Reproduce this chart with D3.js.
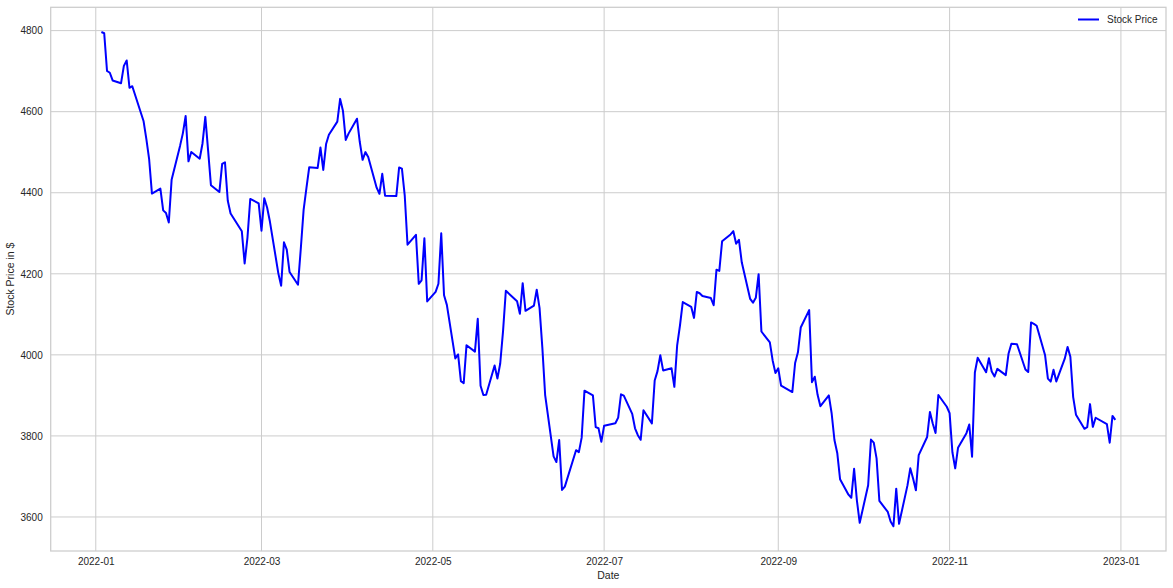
<!DOCTYPE html>
<html>
<head>
<meta charset="utf-8">
<script src="https://cdn.jsdelivr.net/npm/d3@7"></script>
<style>
  html, body { margin: 0; padding: 0; background: #fff; }
  svg { display: block; }
  text { font-family: "Liberation Sans", Arial, sans-serif; fill: #262626; }
</style>
</head>
<body>
<svg id="chart" width="1173" height="588"></svg>
<script>
// ---- data ----
// trading days of 2022, one list per month (Jan..Dec)
const tradingDays = [
  [3,4,5,6,7,10,11,12,13,14,18,19,20,21,24,25,26,27,28,31],
  [1,2,3,4,7,8,9,10,11,14,15,16,17,18,22,23,24,25,28],
  [1,2,3,4,7,8,9,10,11,14,15,16,17,18,21,22,23,24,25,28,29,30,31],
  [1,4,5,6,7,8,11,12,13,14,18,19,20,21,22,25,26,27,28,29],
  [2,3,4,5,6,9,10,11,12,13,16,17,18,19,20,23,24,25,26,27,31],
  [1,2,3,6,7,8,9,10,13,14,15,16,17,21,22,23,24,27,28,29,30],
  [1,5,6,7,8,11,12,13,14,15,18,19,20,21,22,25,26,27,28,29],
  [1,2,3,4,5,8,9,10,11,12,15,16,17,18,19,22,23,24,25,26,29,30,31],
  [1,2,6,7,8,9,12,13,14,15,16,19,20,21,22,23,26,27,28,29,30],
  [3,4,5,6,7,10,11,12,13,14,17,18,19,20,21,24,25,26,27,28,31],
  [1,2,3,4,7,8,9,10,11,14,15,16,17,18,21,22,23,25,28,29,30],
  [1,2,5,6,7,8,9,12,13,14,15,16,19,20,21,22,23,27,28,29,30]
];
const prices = [
  4796.56,4793.54,4700.58,4696.05,4677.03,4670.29,4713.07,4726.35,4659.03,4662.85,4577.11,4532.76,4482.73,4397.94,4410.13,4356.45,4349.93,4326.51,4431.85,4515.55,
  4546.54,4589.38,4477.44,4500.53,4483.87,4521.54,4587.18,4504.08,4418.64,4401.67,4471.07,4475.01,4380.26,4348.87,4304.76,4225.50,4288.70,4384.65,4373.94,
  4306.26,4386.54,4363.49,4328.87,4201.09,4170.70,4277.88,4259.52,4204.31,4173.11,4262.45,4357.86,4411.67,4463.12,4461.18,4511.61,4456.24,4520.16,4543.06,4575.52,4631.60,4602.45,4530.41,
  4545.86,4582.64,4525.12,4481.15,4500.21,4488.28,4412.53,4397.45,4446.59,4392.59,4391.69,4462.21,4459.45,4393.66,4271.78,4296.12,4175.20,4183.96,4287.50,4131.93,
  4155.38,4175.48,4300.17,4146.87,4123.34,3991.24,4001.05,3935.18,3930.08,4023.89,4008.01,4088.85,3923.68,3900.79,3901.36,3973.75,3941.48,3978.73,4057.84,4158.24,4132.15,
  4101.23,4176.82,4108.54,4121.43,4160.68,4115.77,4017.82,3900.86,3749.63,3735.48,3789.99,3666.77,3674.84,3764.79,3759.89,3795.73,3911.74,3900.11,3821.55,3818.83,3785.38,
  3825.33,3831.39,3845.08,3902.62,3899.38,3854.43,3818.80,3801.78,3790.38,3863.16,3830.85,3936.69,3959.90,3998.95,3961.63,3966.84,3921.05,4023.61,4072.43,4130.29,
  4118.63,4091.19,4155.17,4151.94,4145.19,4140.06,4122.47,4210.24,4207.27,4280.15,4297.14,4305.20,4274.04,4283.74,4228.48,4137.99,4128.73,4140.77,4199.12,4057.66,4030.61,3986.16,3955.00,
  3966.85,3924.26,3908.19,3979.87,4006.18,4067.36,4110.41,3932.69,3946.01,3901.35,3873.33,3899.89,3855.93,3789.93,3757.99,3693.23,3655.04,3647.29,3719.04,3640.47,3585.62,
  3678.43,3790.93,3783.28,3744.52,3639.66,3612.39,3588.84,3577.03,3669.91,3583.07,3677.95,3719.98,3695.16,3665.78,3752.75,3797.34,3859.11,3830.60,3807.30,3901.06,3871.98,
  3856.10,3759.69,3719.89,3770.55,3806.80,3828.11,3748.57,3956.37,3992.93,3957.25,3991.73,3958.79,3946.56,3965.34,3949.94,4003.58,4027.26,4026.12,3963.94,3957.63,4080.11,
  4076.57,4071.70,3998.84,3941.26,3933.92,3963.51,3934.38,3990.56,4019.65,3995.32,3895.75,3852.36,3817.66,3821.62,3878.44,3822.39,3844.82,3829.25,3783.22,3849.28,3839.50
];
const xTickLabels = ["2022-01","2022-03","2022-05","2022-07","2022-09","2022-11","2023-01"];
const yTickValues = [3600, 3800, 4000, 4200, 4400, 4600, 4800];
const seriesName = "Stock Price";
const xAxisTitle = "Date";
const yAxisTitle = "Stock Price in $";

// ---- build ----
const dates = [];
tradingDays.forEach((days, m) => days.forEach(d => dates.push(new Date(2022, m, d))));
const data = dates.map((d, i) => ({date: d, value: prices[i]}));

const L = 50.7, R = 1166, T = 7.3, B = 551;
const svg = d3.select("#chart");

const dExt = d3.extent(dates, d => +d);
const dPad = (dExt[1] - dExt[0]) * 0.05;
const x = d3.scaleTime().domain([new Date(dExt[0] - dPad), new Date(dExt[1] + dPad)]).range([L, R]);
const vExt = d3.extent(prices);
const vPad = (vExt[1] - vExt[0]) * 0.05;
const y = d3.scaleLinear().domain([vExt[0] - vPad, vExt[1] + vPad]).range([B, T]);

const parse = d3.timeParse("%Y-%m");
const xTicks = xTickLabels.map(parse);

// grid
const g = svg.append("g");
g.selectAll(".vg").data(xTicks).enter().append("line")
  .attr("x1", d => x(d)).attr("x2", d => x(d)).attr("y1", T).attr("y2", B)
  .attr("stroke", "#cccccc").attr("stroke-width", 1);
g.selectAll(".hg").data(yTickValues).enter().append("line")
  .attr("x1", L).attr("x2", R).attr("y1", d => y(d)).attr("y2", d => y(d))
  .attr("stroke", "#cccccc").attr("stroke-width", 1);

// frame
svg.append("rect").attr("x", L).attr("y", T).attr("width", R - L).attr("height", B - T)
  .attr("fill", "none").attr("stroke", "#cccccc").attr("stroke-width", 1.25);

// axes (labels only, no tick marks)
const xAxis = d3.axisBottom(x).tickValues(xTicks).tickFormat(d3.timeFormat("%Y-%m")).tickSize(0).tickPadding(7);
const xa = svg.append("g").attr("transform", `translate(0,${B})`).call(xAxis);
xa.select(".domain").remove();
xa.selectAll("text").attr("font-size", 10).attr("fill", "#262626").style("font-family", "Liberation Sans, Arial, sans-serif");

const yAxis = d3.axisLeft(y).tickValues(yTickValues).tickFormat(d3.format("d")).tickSize(0).tickPadding(8);
const ya = svg.append("g").attr("transform", `translate(${L},0)`).call(yAxis);
ya.select(".domain").remove();
ya.selectAll("text").attr("font-size", 10).attr("fill", "#262626").style("font-family", "Liberation Sans, Arial, sans-serif");

// line
const line = d3.line().x(d => x(d.date)).y(d => y(d.value));
svg.append("path").datum(data).attr("d", line)
  .attr("fill", "none").attr("stroke", "#0000ff").attr("stroke-width", 2)
  .attr("stroke-linejoin", "round").attr("stroke-linecap", "butt");

// axis titles
svg.append("text").attr("x", (L + R) / 2).attr("y", 579).attr("text-anchor", "middle")
  .attr("font-size", 10.5).text(xAxisTitle);
svg.append("text").attr("transform", `translate(14,${(T + B) / 2}) rotate(-90)`)
  .attr("text-anchor", "middle").attr("font-size", 10.5).text(yAxisTitle);

// legend
const lg = svg.append("g");
lg.append("line").attr("x1", 1078).attr("x2", 1099).attr("y1", 19.5).attr("y2", 19.5)
  .attr("stroke", "#0000ff").attr("stroke-width", 2);
lg.append("text").attr("x", 1107).attr("y", 23).attr("font-size", 10).text(seriesName);
</script>
</body>
</html>
